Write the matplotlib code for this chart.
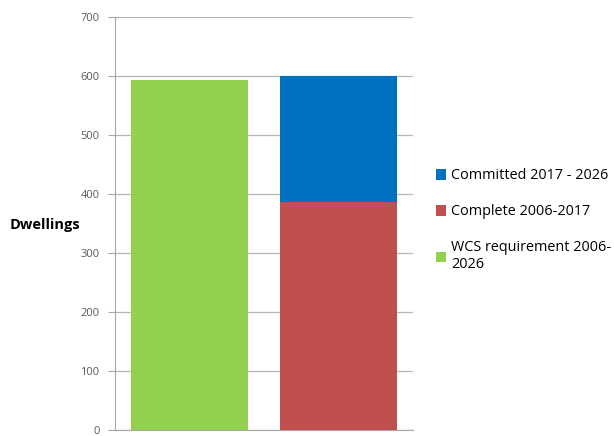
import matplotlib.pyplot as plt

# Dwelling figures (2006-2026)
positions = [0, 1]
wcs_requirement = [594, 0]
complete = [0, 386]
committed = [0, 214]

labels = ["Committed 2017 - 2026", "Complete 2006-2017", "WCS requirement 2006-\n2026"]
colors = {"wcs": "#92d050", "complete": "#c0504d", "committed": "#0070c0"}

plt.rcParams['font.family'] = ['Open Sans', 'DejaVu Sans']

fig = plt.figure(figsize=(6.14, 4.36), dpi=100)
ax = fig.add_axes([0.187, 0.014, 0.486, 0.947])

w = 0.78
b_wcs = ax.bar(positions[0], wcs_requirement[0], w, color=colors["wcs"], zorder=3)
b_comp = ax.bar(positions[1], complete[1], w, color=colors["complete"], zorder=3)
b_commit = ax.bar(positions[1], committed[1], w, bottom=complete[1],
                  color=colors["committed"], zorder=3)

ax.set_xlim(-0.5, 1.5)
ax.set_ylim(0, 700)
ax.set_yticks(range(0, 701, 100))
ax.set_xticks([])
ax.yaxis.grid(True, color="#b7b7b7", linewidth=0.9, zorder=0)
for side in ["top", "right"]:
    ax.spines[side].set_visible(False)
ax.spines["left"].set_color("#a6a6a6")
ax.spines["bottom"].set_color("#a6a6a6")
ax.tick_params(axis="y", colors="#a6a6a6", labelcolor="#595959",
               labelsize=8, length=5, pad=6)

fig.text(0.015, 0.483, "Dwellings", fontsize=10.5, fontweight="bold",
         va="center", ha="left")

fig.legend([b_commit, b_comp, b_wcs], labels, loc="upper left",
           bbox_to_anchor=(0.700, 0.627), frameon=False, fontsize=10.4,
           handlelength=0.75, handleheight=0.75, handletextpad=0.35,
           labelspacing=1.45, borderaxespad=0)

fig.savefig("out.png", dpi=100)
